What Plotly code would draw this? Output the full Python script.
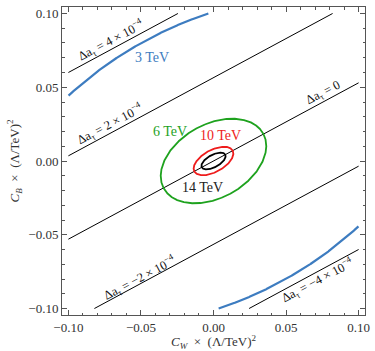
import numpy as np
import plotly.graph_objects as go

# ---------------- data ----------------
# Δa_τ iso-lines: C_B = line_slope * C_W + intercept
delta_a_texts = ["4 × 10<sup>−4</sup>", "2 × 10<sup>−4</sup>", "0",
                 "−2 × 10<sup>−4</sup>", "−4 × 10<sup>−4</sup>"]
line_intercepts = [0.113, 0.0565, 0.0, -0.0565, -0.113]
line_slope = 0.53

# sensitivity ellipses (centred at origin)
energy_labels = ["3 TeV", "6 TeV", "10 TeV", "14 TeV"]
semi_major = [0.160, 0.039, 0.015, 0.0092]
semi_minor = [0.094, 0.025, 0.0075, 0.0042]
tilt_deg = [27, 28, 28, 28]

tick_values = [-0.10, -0.05, 0.0, 0.05, 0.10]
tick_labels = ["−0.10", "−0.05", "0.00", "0.05", "0.10"]

# ---------------- styling ----------------
FONT = "Liberation Serif"
ell_colors = ["#3d7cc0", "#1ea21e", "#ee1c1c", "#000000"]
ell_widths = [2.2, 1.8, 1.8, 1.8]
ell_label_pos = [(-0.0422, 0.0703), (-0.0297, 0.0203), (0.0050, 0.0174), (-0.0078, -0.0180)]
line_label_pos = [(-0.0704, 0.0817), (-0.0715, 0.0248), (0.0759, 0.0461),
                  (-0.0512, -0.0793), (0.0720, -0.0810)]
LIM = 0.10

fig = go.Figure()

# Δa lines clipped to the plot region
for c in line_intercepts:
    x0 = max(-LIM, (-LIM - c) / line_slope)
    x1 = min(LIM, (LIM - c) / line_slope)
    fig.add_trace(go.Scatter(x=[x0, x1], y=[line_slope * x0 + c, line_slope * x1 + c],
                             mode="lines", line=dict(color="black", width=1),
                             hoverinfo="skip", showlegend=False))

# ellipses
t = np.linspace(0, 2 * np.pi, 6001)
for a, b, th, col, w in zip(semi_major, semi_minor, tilt_deg, ell_colors, ell_widths):
    r = np.deg2rad(th)
    xs = a * np.cos(t) * np.cos(r) - b * np.sin(t) * np.sin(r)
    ys = a * np.cos(t) * np.sin(r) + b * np.sin(t) * np.cos(r)
    mask = (np.abs(xs) > LIM) | (np.abs(ys) > LIM)
    xs = xs.astype(object); ys = ys.astype(object)
    xs[mask] = None; ys[mask] = None
    fig.add_trace(go.Scatter(x=list(xs), y=list(ys), mode="lines",
                             line=dict(color=col, width=w),
                             connectgaps=False, hoverinfo="skip", showlegend=False))

ann = []
for txt, (px, py), col in zip(energy_labels, ell_label_pos, ell_colors):
    ann.append(dict(x=px, y=py, xref="x", yref="y", text=txt, showarrow=False,
                    font=dict(family=FONT, size=14, color=col if col != "#000000" else "#222"),
                    xanchor="center", yanchor="middle"))
angle = -np.degrees(np.arctan(line_slope))
for txt, (px, py) in zip(delta_a_texts, line_label_pos):
    ann.append(dict(x=px, y=py, xref="x", yref="y",
                    text="Δa<sub>τ</sub> = " + txt, showarrow=False, textangle=angle,
                    font=dict(family=FONT, size=12.5, color="#111"),
                    xanchor="center", yanchor="middle"))
# axis titles
ann.append(dict(x=0.5, y=-0.088, xref="paper", yref="paper",
                text="<i>C</i><sub><i>W</i></sub>  ×  (Λ/TeV)<sup>2</sup>", showarrow=False,
                font=dict(family=FONT, size=13, color="#333"), xanchor="center", yanchor="middle"))
ann.append(dict(x=-0.157, y=0.5, xref="paper", yref="paper", textangle=-90,
                text="<i>C</i><sub><i>B</i></sub>  ×  (Λ/TeV)<sup>2</sup>", showarrow=False,
                font=dict(family=FONT, size=13, color="#333"), xanchor="center", yanchor="middle"))

axis_common = dict(
    range=[-0.1044, 0.1044], showgrid=False, zeroline=False,
    showline=True, linecolor="#555", linewidth=1, mirror="allticks",
    ticks="inside", ticklen=5, tickwidth=1, tickcolor="#555",
    tickvals=tick_values, ticktext=tick_labels,
    tickfont=dict(family=FONT, size=13, color="#333"),
    minor=dict(ticks="inside", dtick=0.01, tick0=0, ticklen=2.5, tickcolor="#555", tickwidth=1),
)
fig.update_layout(
    width=375, height=351,
    margin=dict(l=62, r=5, t=7, b=36),
    plot_bgcolor="white", paper_bgcolor="white",
    xaxis=dict(**axis_common),
    yaxis=dict(**axis_common),
    annotations=ann,
    showlegend=False,
)
fig.write_html("out.html", config={"displayModeBar": False, "staticPlot": True},
               post_script="document.body.style.margin='0';document.body.style.overflow='hidden';")
